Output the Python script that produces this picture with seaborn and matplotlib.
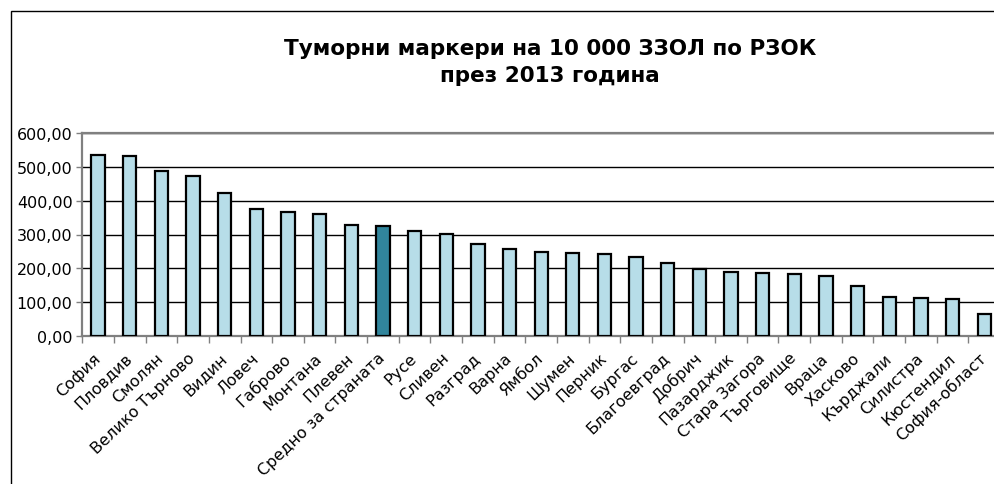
import matplotlib
matplotlib.use("Agg")
import matplotlib.pyplot as plt
from matplotlib.patches import Rectangle
from matplotlib.ticker import FixedLocator, FuncFormatter
import seaborn as sns
import pandas as pd
import numpy as np

# Tumour-marker tests per 10 000 insured persons, by regional health fund, 2013
regions = [
    "София", "Пловдив", "Смолян", "Велико Търново", "Видин", "Ловеч",
    "Габрово", "Монтана", "Плевен", "Средно за страната", "Русе", "Сливен",
    "Разград", "Варна", "Ямбол", "Шумен", "Перник", "Бургас", "Благоевград",
    "Добрич", "Пазарджик", "Стара Загора", "Търговище", "Враца", "Хасково",
    "Кърджали", "Силистра", "Кюстендил", "София-област",
]
values = [
    537, 534, 487, 474, 424, 377,
    367, 362, 328, 324, 309, 301,
    271, 258, 247, 244, 241, 232, 215,
    198, 190, 187, 184, 178, 148,
    116, 113, 110, 65,
]
national_average = "Средно за страната"
y_ticks = [0, 100, 200, 300, 400, 500, 600]
title_text = "Туморни маркери на 10 000 ЗЗОЛ по РЗОК\nпрез 2013 година"

LIGHT = "#B7DDE8"
DARK = "#31859C"
GREY = "#808080"

sns.set_style("white")
plt.rcParams["font.family"] = ["DejaVu Sans"]
plt.rcParams["text.color"] = "black"

df = pd.DataFrame({"region": regions, "value": values})
palette = {r: (DARK if r == national_average else LIGHT) for r in regions}

fig = plt.figure(figsize=(9.94, 4.85), dpi=100)
fig.patch.set_facecolor("white")

W, H = 994.0, 485.0
x_left, x_right = 82.3, 1000.0
y_top, y_bot = 134.3, 336.7
ax = fig.add_axes([x_left / W, 1 - y_bot / H, (x_right - x_left) / W, (y_bot - y_top) / H])

sns.barplot(data=df, x="region", y="value", hue="region", palette=palette,
            legend=False, width=0.42, edgecolor="black", linewidth=1.6,
            saturation=1, ax=ax, zorder=3)

ax.set_xlim(-0.5, len(regions) - 0.5)
ax.set_ylim(0, 600)
ax.set_xlabel("")
ax.set_ylabel("")

# horizontal gridlines in black, frame in grey
ax.yaxis.set_major_locator(FixedLocator(y_ticks))
ax.yaxis.set_major_formatter(FuncFormatter(lambda v, p: f"{v:.2f}".replace(".", ",")))
ax.grid(axis="y", color="black", linewidth=1.0, zorder=0)
ax.set_axisbelow(True)
for side, sp in ax.spines.items():
    sp.set_visible(True)
    sp.set_color(GREY)
    sp.set_linewidth(1.6)

ax.tick_params(axis="y", which="major", direction="out", length=4, width=1,
               color=GREY, labelsize=11.5, pad=3, left=True, labelcolor="black")

# category labels on major ticks, tick marks on category boundaries
ax.set_xticks(range(len(regions)))
ax.set_xticklabels(regions, rotation=44, ha="right", va="center",
                   rotation_mode="anchor", fontsize=11.5)
ax.tick_params(axis="x", which="major", length=0, pad=14, labelcolor="black")
ax.xaxis.set_minor_locator(FixedLocator(np.arange(-0.5, len(regions), 1.0)))
ax.tick_params(axis="x", which="minor", direction="out", length=5, width=1,
               color=GREY, bottom=True)

# outer chart frame
fig.patches.append(Rectangle((10.5 / W, -0.1), 1.2, (1 - 11.5 / H) + 0.1,
                             transform=fig.transFigure, fill=False,
                             edgecolor="black", linewidth=1.0))

fig.text(550 / W, 1 - 81.7 / H, title_text, ha="center", va="baseline",
         multialignment="center", fontsize=15.5, fontweight="bold",
         linespacing=1.4, color="black")

fig.savefig("out.png", dpi=100)
